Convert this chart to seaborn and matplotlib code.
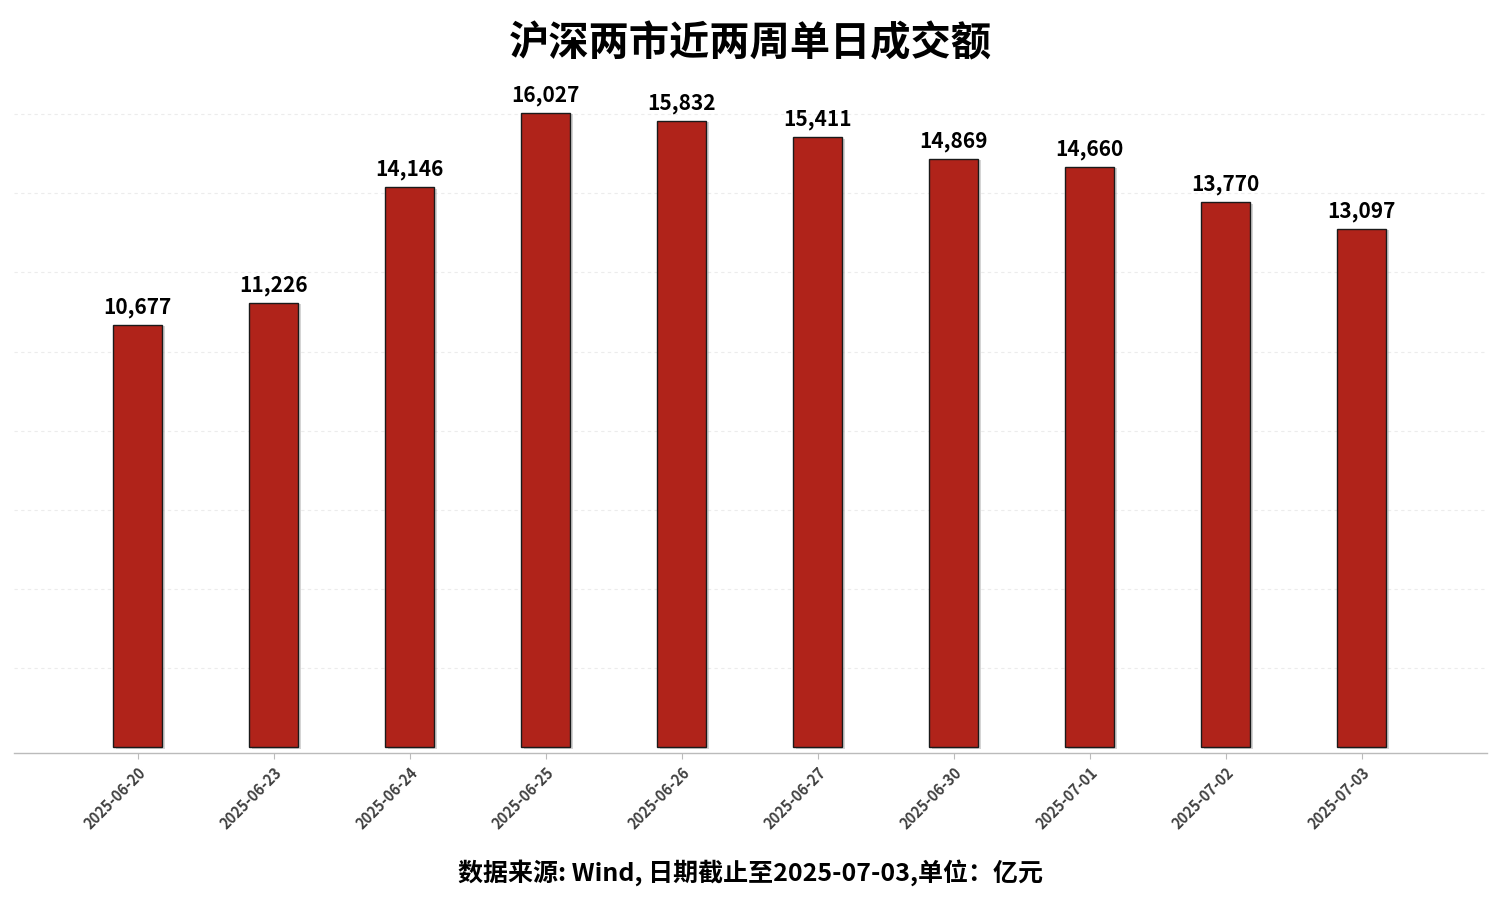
import matplotlib
matplotlib.use("Agg")
import matplotlib.pyplot as plt
import matplotlib.patheffects as pe
import seaborn as sns
import pandas as pd

dates = ["2025-06-20", "2025-06-23", "2025-06-24", "2025-06-25", "2025-06-26",
         "2025-06-27", "2025-06-30", "2025-07-01", "2025-07-02", "2025-07-03"]
turnover = [10677, 11226, 14146, 16027, 15832, 15411, 14869, 14660, 13770, 13097]

title = "沪深两市近两周单日成交额"
footer = "数据来源: Wind, 日期截止至2025-07-03,单位：亿元"

sns.set_style("white")
plt.rcParams['font.family'] = ['Noto Sans CJK SC', 'DejaVu Sans']

df = pd.DataFrame({"date": dates, "value": turnover})

fig = plt.figure(figsize=(15, 9), dpi=100)
ax = fig.add_axes([0.0093, 0.163, 0.982, 0.745])

sns.barplot(data=df, x="date", y="value", color="#B0231A", width=0.36,
            edgecolor="#1a1a1a", linewidth=1, saturation=1, ax=ax)

# light drop shadow on the bars
for bar in ax.patches:
    bar.set_path_effects([pe.SimplePatchShadow(offset=(2, -1), shadow_rgbFace="#aaaaaa", alpha=0.5),
                          pe.Normal()])

for i, v in enumerate(turnover):
    ax.text(i, v + 180, f"{v:,}", ha="center", va="bottom",
            fontsize=15, fontweight="bold", color="black")

ax.set_xlim(-0.91, 9.92)
ax.set_ylim(-150, 16790)
ax.set_yticks(range(2000, 17000, 2000))
ax.yaxis.grid(True, color="#ececec", linestyle=(0, (3, 3)), linewidth=0.8)
ax.set_axisbelow(True)
ax.tick_params(axis="y", left=False, labelleft=False)
ax.tick_params(axis="x", bottom=True, length=4, color="#bbbbbb", pad=4)
plt.setp(ax.get_xticklabels(), rotation=45, ha="right", rotation_mode="anchor",
         fontsize=10.5, fontweight="bold", color="#404040")
ax.set_xlabel("")
ax.set_ylabel("")
for s in ["top", "right", "left"]:
    ax.spines[s].set_visible(False)
ax.spines["bottom"].set_color("#bbbbbb")
ax.spines["bottom"].set_linewidth(1)

fig.text(0.5, 0.952, title, ha="center", va="center", fontsize=29,
         fontweight="bold", color="black")
fig.text(0.5, 0.031, footer, ha="center", va="center", fontsize=18,
         fontweight="bold", color="black")

fig.savefig("out.png", dpi=100, facecolor="white")
